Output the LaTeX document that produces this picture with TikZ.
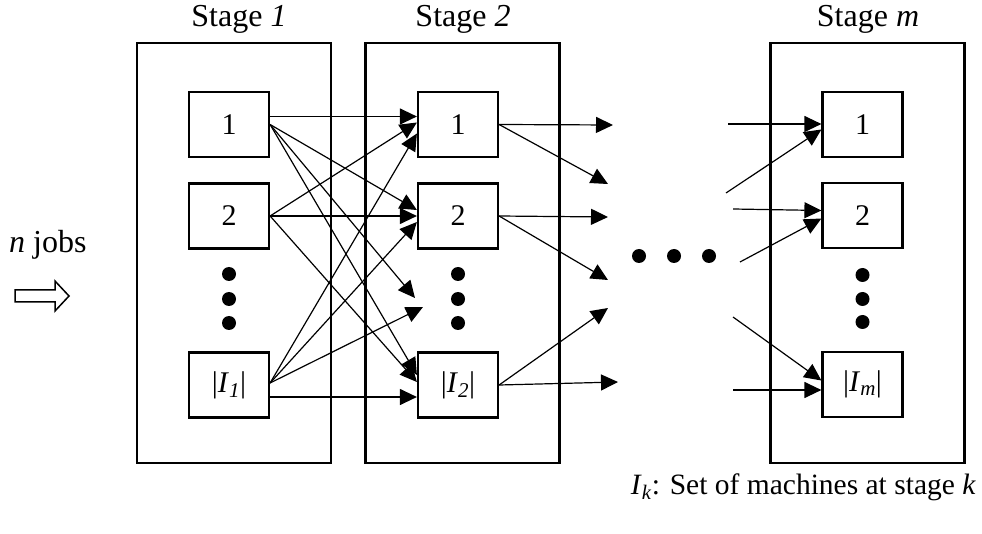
\documentclass[tikz,border=0pt]{standalone}
\usepackage{fontspec}
\setmainfont{Liberation Serif}
\usetikzlibrary{arrows.meta,calc}

\tikzset{
  stagebox/.style={draw, line width=2.2pt, minimum width=194pt, minimum height=420pt, inner sep=0pt},
  machine/.style={draw, line width=2.2pt, minimum width=80pt, minimum height=65pt, inner sep=0pt, font=\fontsize{30}{34}\selectfont},
  label/.style={font=\fontsize{32}{36}\selectfont, inner sep=0pt},
  note/.style={font=\fontsize{29.5}{34}\selectfont, inner sep=0pt},
  flow/.style={line width=1.2pt, -{Triangle[length=17pt,width=16pt]}},
  vdot/.style={fill=black, circle, minimum size=14pt, inner sep=0pt},
}

\begin{document}
\begin{tikzpicture}[x=1pt, y=-1pt]
\useasboundingbox (0,0) rectangle (982,534);

% stage frames
\node[stagebox] (s1) at (234,253) {};
\node[stagebox] (s2) at (462.5,253) {};
\node[stagebox] (sm) at (867.5,253) {};

\node[label, anchor=base] (t1) at (239,27) {Stage \textit{1}};
\node[label, anchor=base] (t2) at (463,27) {Stage \textit{2}};
\node[label, anchor=base] (tm) at (868,27) {Stage \textit{m}};

% machines of stage 1
\node[machine] (a1) at (229,124.5) {1};
\node[machine] (a2) at (229,216) {2};
\node[machine] (aI) at (229,385) {|\textit{I}\textsubscript{\textit{1}}|};
\node[vdot] (ad1) at (229,274) {};
\node[vdot] (ad2) at (229,299) {};
\node[vdot] (ad3) at (229,323) {};

% machines of stage 2
\node[machine] (b1) at (458,124.5) {1};
\node[machine] (b2) at (458,216) {2};
\node[machine] (bI) at (458,385) {|\textit{I}\textsubscript{\textit{2}}|};
\node[vdot] (bd1) at (458,274) {};
\node[vdot] (bd2) at (458,299) {};
\node[vdot] (bd3) at (458,323) {};

% machines of stage m
\node[machine] (c1) at (862.5,124.5) {1};
\node[machine] (c2) at (862.5,215.5) {2};
\node[machine] (cI) at (862.5,384.5) {|\textit{I}\textsubscript{\textit{m}}|};
\node[vdot] (cd1) at (862.5,275) {};
\node[vdot] (cd2) at (862.5,299) {};
\node[vdot] (cd3) at (862.5,322) {};

% stages in between
\node[vdot] (m1) at (639,256) {};
\node[vdot] (m2) at (674,256) {};
\node[vdot] (m3) at (709,256) {};

% loose ends of the connectors
\coordinate (p1) at (415,298);
\coordinate (p2) at (423,307);
\coordinate (q1) at (613,125);
\coordinate (q2) at (608,184);
\coordinate (q3) at (608,217);
\coordinate (q4) at (608,280);
\coordinate (q5) at (608,308);
\coordinate (q6) at (618,382);
\coordinate (r1) at (728,124);
\coordinate (r2) at (726,193);
\coordinate (r3) at (733,209);
\coordinate (r4) at (740,262);
\coordinate (r5) at (733,317);
\coordinate (r6) at (733,390);

% stage 1 -> stage 2
\draw[flow] ($(a1.east)+(0,-8)$) -- ($(b1.west)+(0,-8)$);
\draw[flow] (a1.east) -- ($(b2.west)+(0,-6)$);
\draw[flow] (a1.east) -- (p1);
\draw[flow] (a1.east) -- ($(bI.west)+(0,-10)$);
\draw[flow] (a2.east) -- ($(b1.west)+(0,-2)$);
\draw[flow] (a2.east) -- (b2.west);
\draw[flow] (a2.east) -- ($(bI.west)+(0,-3)$);
\draw[flow] ($(aI.east)+(0,-2)$) -- ($(b1.west)+(0,9)$);
\draw[flow] ($(aI.east)+(0,-2)$) -- ($(b2.west)+(0,6)$);
\draw[flow] ($(aI.east)+(0,-2)$) -- (p2);
\draw[flow] ($(aI.east)+(0,12)$) -- ($(bI.west)+(0,12)$);

% stage 2 -> further stages
\draw[flow] (b1.east) -- (q1);
\draw[flow] (b1.east) -- (q2);
\draw[flow] (b2.east) -- (q3);
\draw[flow] (b2.east) -- (q4);
\draw[flow] (bI.east) -- (q5);
\draw[flow] (bI.east) -- (q6);

% earlier stages -> stage m
\draw[flow] (r1) -- ($(c1.west)+(0,-0.5)$);
\draw[flow] (r2) -- ($(c1.west)+(0,5)$);
\draw[flow] (r3) -- ($(c2.west)+(0,-5)$);
\draw[flow] (r4) -- ($(c2.west)+(0,3)$);
\draw[flow] (r5) -- ($(cI.west)+(0,-4)$);
\draw[flow] (r6) -- ($(cI.west)+(0,5.5)$);

% incoming jobs
\node[label, anchor=base west] (jobs) at (9,253) {\textit{n} jobs};
\draw[line width=1.5pt, line join=miter] (15,290) coordinate (ja) -- (55,290) -- (55,281) -- (69,296) -- (55,311) -- (55,302) -- (15,302) -- cycle;

% legend
\node[note, anchor=base east] (legend) at (976,494) {\textit{I}\textsubscript{\textit{k}}: Set of machines at stage \textit{k}};
\end{tikzpicture}
\end{document}
